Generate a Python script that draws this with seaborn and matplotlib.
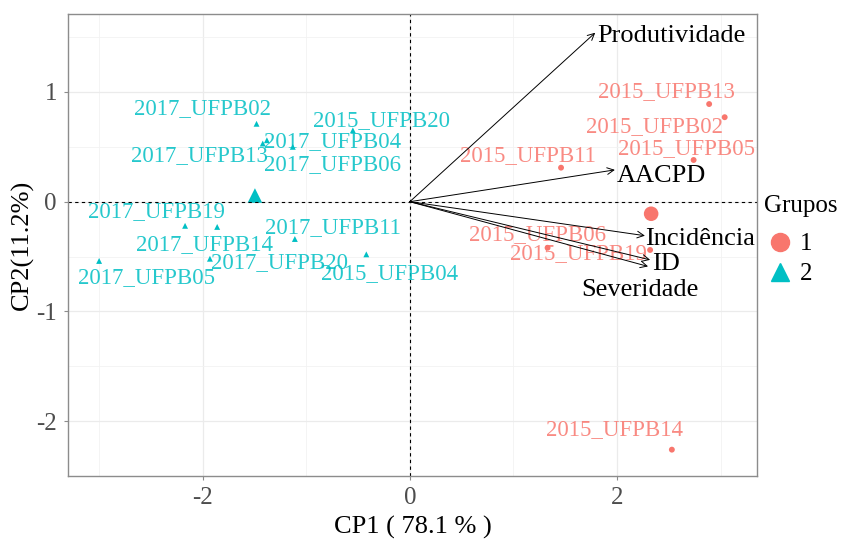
import numpy as np
import pandas as pd
import matplotlib
matplotlib.use('Agg')
import matplotlib.pyplot as plt
from matplotlib.lines import Line2D
import seaborn as sns

# individuos (scores CP1 / CP2) e grupos
ind_names = ['2015_UFPB13', '2015_UFPB02', '2015_UFPB05', '2015_UFPB11',
             '2015_UFPB06', '2015_UFPB19', '2015_UFPB14',
             '2017_UFPB02', '2017_UFPB13', '2017_UFPB04', '2017_UFPB06',
             '2015_UFPB20', '2017_UFPB19', '2017_UFPB14', '2017_UFPB11',
             '2017_UFPB20', '2017_UFPB05', '2015_UFPB04']
cp1 = [2.89, 3.04, 2.74, 1.46, 1.33, 2.32, 2.53,
       -1.48, -1.42, -1.38, -1.13, -0.55, -2.17, -1.86, -1.11, -1.93, -3.00, -0.42]
cp2 = [0.89, 0.77, 0.38, 0.31, -0.42, -0.44, -2.26,
       0.71, 0.53, 0.56, 0.50, 0.65, -0.22, -0.23, -0.34, -0.52, -0.54, -0.48]
grupo = ['1'] * 7 + ['2'] * 11

# variaveis (setas)
var_names = ['Produtividade', 'AACPD', 'Incidência', 'ID', 'Severidade']
var_cp1 = [1.79, 1.98, 2.27, 2.32, 2.30]
var_cp2 = [1.54, 0.29, -0.31, -0.53, -0.59]

# deslocamento dos rótulos (pixels, y para baixo)
ind_off = {'2015_UFPB13': (-43, -12), '2015_UFPB02': (-70, 9), '2015_UFPB05': (-7, -11),
           '2015_UFPB11': (-33, -12), '2015_UFPB06': (-10, -13), '2015_UFPB19': (-72, 4),
           '2015_UFPB14': (-57, -20), '2017_UFPB02': (-54, -15), '2017_UFPB13': (-63, 12),
           '2017_UFPB04': (66, 1), '2017_UFPB06': (40, 18), '2015_UFPB20': (29, -10),
           '2017_UFPB19': (-29, -14), '2017_UFPB14': (-13, 18), '2017_UFPB11': (38, -11),
           '2017_UFPB20': (70, 4), '2017_UFPB05': (47, 17), '2015_UFPB04': (23, 19)}
var_off = {'Produtividade': (2, 3, 'left'), 'AACPD': (2, 6, 'left'),
           'Incidência': (0, 3, 'left'), 'ID': (2, 4, 'left'),
           'Severidade': (-8, 24, 'center')}

cores = {'1': '#F8766D', '2': '#00BFC4'}
marcas = {'1': 'o', '2': '^'}

df = pd.DataFrame({'nome': ind_names, 'CP1': cp1, 'CP2': cp2, 'Grupo': grupo})
medias = df.groupby('Grupo')[['CP1', 'CP2']].mean().reset_index()

plt.rcParams['font.family'] = ['Liberation Serif', 'DejaVu Serif']
plt.rcParams['axes.unicode_minus'] = False

fig = plt.figure(figsize=(8.42, 5.39), dpi=100)
ax = fig.add_axes([0.0808, 0.1169, 0.818, 0.857])

# grade
ax.set_xlim(-3.30, 3.35)
ax.set_ylim(-2.45, 1.71)
ax.set_xticks([-2, 0, 2])
ax.set_yticks([-2, -1, 0, 1])
ax.set_xticks([-3, -1, 1, 3], minor=True)
ax.set_yticks([-2.5, -1.5, -0.5, 0.5, 1.5], minor=True)
ax.grid(True, which='major', color='#EBEBEB', lw=0.9)
ax.grid(True, which='minor', color='#F2F2F2', lw=0.6)
ax.set_axisbelow(True)
ax.axhline(0, color='black', ls='--', lw=0.8, dashes=(3, 3))
ax.axvline(0, color='black', ls='--', lw=0.8, dashes=(3, 3))

sns.scatterplot(data=df, x='CP1', y='CP2', hue='Grupo', style='Grupo',
                palette=cores, markers=marcas, s=18, linewidth=0, ax=ax, legend=False)
sns.scatterplot(data=medias, x='CP1', y='CP2', hue='Grupo', style='Grupo',
                palette=cores, markers=marcas, s=110, linewidth=0, ax=ax, legend=False)

for n, x, y, g in zip(ind_names, cp1, cp2, grupo):
    dx, dy = ind_off[n]
    ax.annotate(n, (x, y), xytext=(dx, -dy), textcoords='offset pixels',
                ha='center', va='center', fontsize=16.5, color=cores[g], alpha=0.85)

for n, x, y in zip(var_names, var_cp1, var_cp2):
    ax.annotate('', xy=(x, y), xytext=(0, 0),
                arrowprops=dict(arrowstyle='->', color='black', lw=0.7,
                                shrinkA=0, shrinkB=0, mutation_scale=12))
    dx, dy, ha = var_off[n]
    ax.annotate(n, (x, y), xytext=(dx, -dy), textcoords='offset pixels',
                ha=ha, va='center', fontsize=19, color='black')

for s in ax.spines.values():
    s.set_color('#8C8C8C')
    s.set_linewidth(1.0)
ax.tick_params(which='major', length=3, color='#8C8C8C', labelsize=18,
               labelcolor='#4D4D4D', pad=5)
ax.tick_params(which='minor', length=0)
ax.set_xlabel('CP1 ( 78.1 % )', fontsize=19, labelpad=5)
ax.set_ylabel('CP2(11.2%)', fontsize=19, labelpad=2)

# legenda
fig.text(764 / 842, 1 - 206 / 539, 'Grupos', fontsize=18, ha='left', va='center')
handles = [Line2D([], [], marker=marcas[g], color=cores[g], ls='', markersize=13)
           for g in ['1', '2']]
leg = fig.legend(handles, ['1', '2'], loc='upper left',
                 bbox_to_anchor=(0.905, 1 - 233 / 539), frameon=False, fontsize=18,
                 handletextpad=0.1, labelspacing=0.3,
                 handlelength=1.4, borderaxespad=0, borderpad=0)

fig.savefig('out.png', dpi=100)
